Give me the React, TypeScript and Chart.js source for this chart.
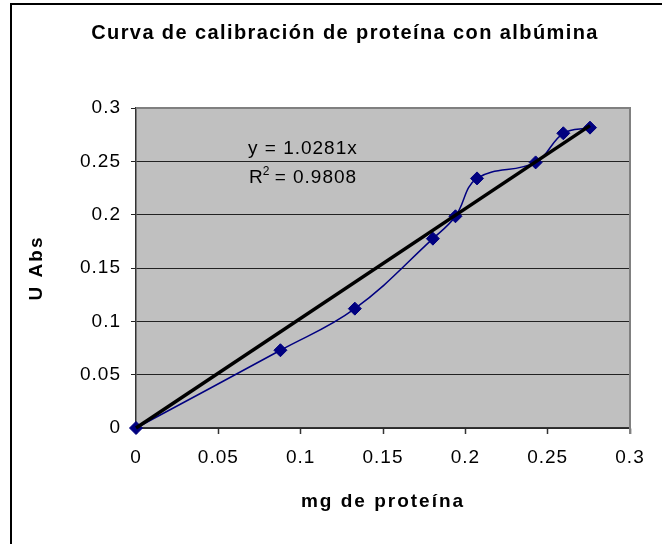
import React, { useEffect, useRef } from "react";
import { Chart, registerables } from "chart.js";

Chart.register(...registerables);

const TITLE = "Curva de calibración de proteína con albúmina";
const X_TITLE = "mg de proteína";
const Y_TITLE = "U Abs";
const mgProteina = [0, 0.0877, 0.1329, 0.1803, 0.194, 0.2071, 0.2427, 0.2595, 0.2757];
const absorbancia = [0, 0.0729, 0.1119, 0.1775, 0.1985, 0.234, 0.249, 0.2763, 0.2816];
const AXIS_TICKS = [0, 0.05, 0.1, 0.15, 0.2, 0.25, 0.3];
const TREND_SLOPE = 1.0281;
const EQ_LINE1 = "y = 1.0281x";
const EQ_R2 = "0.9808";
// equation label anchor, in data units
const EQ_AT_X = 0.068;
const EQ_AT_Y1 = 0.262;
const EQ_AT_Y2 = 0.235;

const FONT = "'Liberation Sans', Arial, sans-serif";

const decor = {
  id: "decor",
  beforeDraw(chart: any) {
    const { ctx, chartArea: a } = chart;
    ctx.save();
    ctx.fillStyle = "#ffffff";
    ctx.fillRect(0, 0, chart.width, chart.height);
    ctx.fillStyle = "#C0C0C0";
    ctx.fillRect(a.left, a.top, a.right - a.left, a.bottom - a.top);
    ctx.restore();
    ctx.letterSpacing = "1px";
  },
  beforeDatasetsDraw(chart: any) {
    const { ctx, chartArea: a } = chart;
    ctx.save();
    ctx.strokeStyle = "#808080";
    ctx.lineWidth = 2;
    ctx.beginPath();
    ctx.moveTo(a.left, a.top);
    ctx.lineTo(a.right, a.top);
    ctx.lineTo(a.right, a.bottom + 6);
    ctx.stroke();
    ctx.restore();
  },
  afterDraw(chart: any) {
    const { ctx, chartArea: a, scales } = chart;
    ctx.save();
    // outer border (cut by the picture on right and bottom)
    ctx.fillStyle = "#000";
    ctx.fillRect(10, 3, chart.width - 10, 2);
    ctx.fillRect(10, 3, 2, chart.height - 3);

    // titles
    ctx.fillStyle = "#000";
    ctx.textBaseline = "middle";
    ctx.textAlign = "center";
    ctx.font = `bold 20px ${FONT}`;
    ctx.letterSpacing = "1.4px";
    ctx.fillText(TITLE, 345, 33);
    ctx.font = `bold 19px ${FONT}`;
    ctx.letterSpacing = "2px";
    ctx.fillText(X_TITLE, (a.left + a.right) / 2, 502);
    ctx.save();
    ctx.translate(37, (a.top + a.bottom) / 2);
    ctx.rotate(-Math.PI / 2);
    ctx.fillText(Y_TITLE, 0, 0);
    ctx.restore();

    // trendline equation
    ctx.font = `19px ${FONT}`;
    ctx.letterSpacing = "1px";
    ctx.textAlign = "left";
    const x0 = scales.x.getPixelForValue(EQ_AT_X);
    const y1 = scales.y.getPixelForValue(EQ_AT_Y1);
    const y2 = scales.y.getPixelForValue(EQ_AT_Y2);
    ctx.fillText(EQ_LINE1, x0, y1);
    ctx.fillText("R", x0 + 1, y2);
    const rw = ctx.measureText("R").width;
    ctx.font = `12px ${FONT}`;
    ctx.letterSpacing = "0px";
    ctx.fillText("2", x0 + rw, y2 - 6);
    const sw = ctx.measureText("2").width;
    ctx.font = `19px ${FONT}`;
    ctx.letterSpacing = "1px";
    ctx.fillText(" = " + EQ_R2, x0 + rw + sw - 1, y2);
    ctx.restore();
  },
};

export default function App() {
  const ref = useRef<HTMLCanvasElement | null>(null);

  useEffect(() => {
    if (!ref.current) return;
    const points = mgProteina.map((x, i) => ({ x, y: absorbancia[i] }));
    const xMin = Math.min(...mgProteina);
    const xMax = Math.max(...mgProteina);
    const trend = [
      { x: xMin, y: TREND_SLOPE * xMin },
      { x: xMax, y: TREND_SLOPE * xMax },
    ];
    const tickCb = (v: any) => String(v);
    const chart = new Chart(ref.current, {
      type: "scatter",
      data: {
        datasets: [
          {
            label: "Tendencia",
            data: trend,
            showLine: true,
            borderColor: "#000000",
            borderWidth: 3.5,
            pointRadius: 0,
            tension: 0,
            order: 0,
            clip: false as any,
          },
          {
            label: "U Abs",
            data: points,
            showLine: true,
            borderColor: "#000080",
            borderWidth: 1.5,
            backgroundColor: "#000080",
            pointStyle: "rectRot",
            pointRadius: 6.5,
            pointBorderWidth: 1,
            pointBackgroundColor: "#000080",
            pointBorderColor: "#000080",
            tension: 0.4,
            order: 1,
            clip: false as any,
          },
        ],
      },
      plugins: [decor],
      options: {
        animation: false,
        responsive: false,
        devicePixelRatio: 1,
        events: [],
        layout: { padding: { top: 108, right: 32, left: 0, bottom: 0 } },
        plugins: {
          legend: { display: false },
          tooltip: { enabled: false },
          title: { display: false },
        },
        scales: {
          x: {
            type: "linear",
            min: 0,
            max: 0.3,
            afterFit: (s: any) => {
              s.height = 116;
            },
            afterBuildTicks: (s: any) => {
              s.ticks = AXIS_TICKS.map((value) => ({ value }));
            },
            ticks: {
              callback: tickCb,
              color: "#000",
              font: { family: FONT, size: 19 },
              padding: 12,
              maxRotation: 0,
              autoSkip: false,
            },
            grid: {
              drawOnChartArea: false,
              drawTicks: true,
              tickLength: 6,
              tickColor: "#333",
              tickWidth: 1.5,
            },
            border: { color: "#333", width: 1.5 },
          },
          y: {
            type: "linear",
            min: 0,
            max: 0.3,
            afterFit: (s: any) => {
              s.width = 136;
            },
            afterBuildTicks: (s: any) => {
              s.ticks = AXIS_TICKS.map((value) => ({ value }));
            },
            ticks: {
              callback: tickCb,
              color: "#000",
              font: { family: FONT, size: 19 },
              padding: 10,
              autoSkip: false,
            },
            grid: {
              color: (c: any) => (c.tick && c.tick.value === 0.3 ? "rgba(0,0,0,0)" : "#222"),
              lineWidth: 1,
              drawTicks: true,
              tickLength: 5,
              tickColor: "#222",
            },
            border: { color: "#333", width: 1.5 },
          },
        },
      } as any,
    });
    return () => chart.destroy();
  }, []);

  return (
    <div style={{ position: "fixed", left: 0, top: 0, width: 662, height: 544, background: "#fff" }}>
      <canvas ref={ref} width={662} height={544} style={{ display: "block", width: 662, height: 544 }} />
    </div>
  );
}
